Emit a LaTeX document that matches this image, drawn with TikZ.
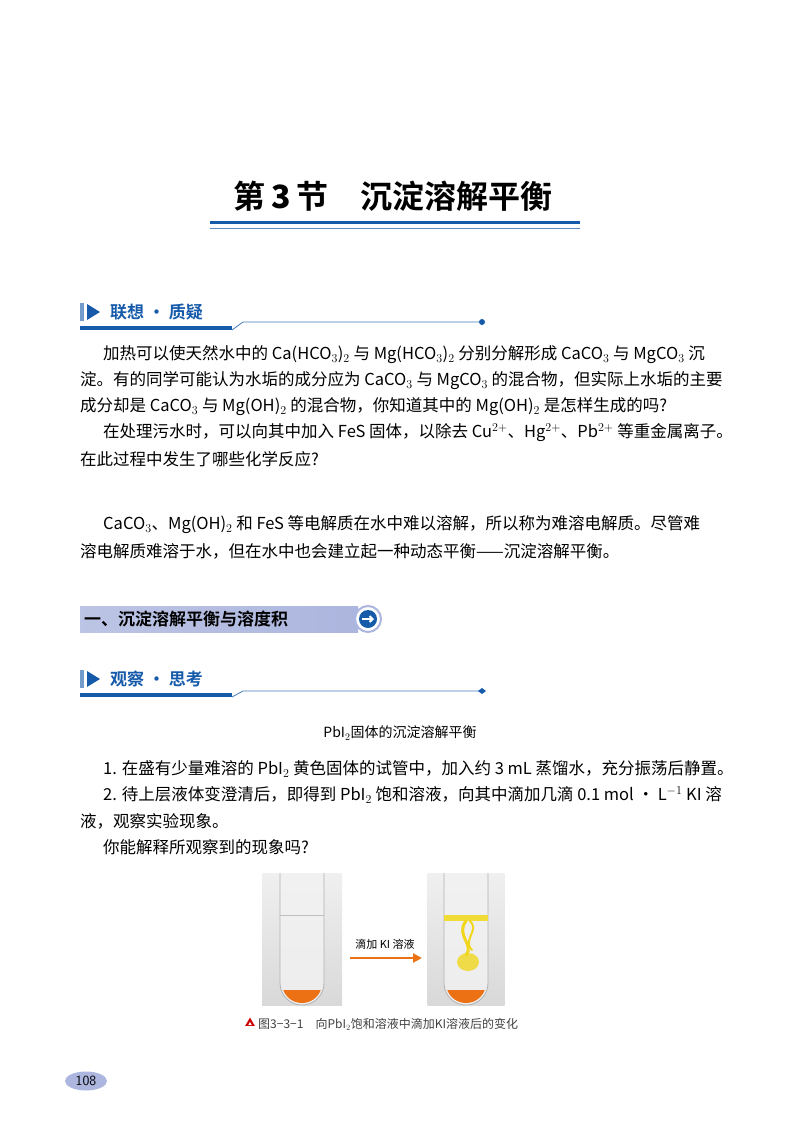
\documentclass[tikz,border=0pt]{standalone}
\usepackage{fontspec}
\setmainfont{Liberation Serif}
\newfontfamily\cjk{Noto Sans CJK SC}
\newfontfamily\cjkb{Noto Sans CJK SC Bold}
\usetikzlibrary{positioning,arrows.meta,shapes.geometric}
\definecolor{hdblue}{RGB}{22,90,170}
\definecolor{barblue}{RGB}{172,182,222}
\definecolor{tipor}{RGB}{236,112,20}
\definecolor{pbyel}{RGB}{240,215,30}
\newcommand{\bodytext}{\fontsize{16.5}{16.5}\selectfont\cjk}
\begin{document}
\begin{tikzpicture}[x=1pt,y=-1pt,
    line/.style={anchor=west, inner sep=0pt, font=\bodytext},
    hdtext/.style={anchor=west, inner sep=0pt, text=hdblue, font=\fontsize{17}{17}\selectfont\cjkb},
    photo/.style={draw=none, top color=gray!12, bottom color=gray!30, minimum width=80pt, minimum height=132pt, inner sep=0pt},
  ]
  \useasboundingbox (0,0) rectangle (800,1132);

  % title
  \node (title) at (393,196) {\fontsize{32}{32}\selectfont\cjkb 第\,\textbf{\textit{3}}\,节\quad 沉淀溶解平衡};
  \draw[hdblue, line width=3pt] (210,222) -- (580,222);
  \draw[hdblue!70, line width=1pt] (210,228) -- (580,228);

  % header 1
  \fill[hdblue!60] (80,303) rectangle (84,321);
  \fill[hdblue] (87,304) -- (100,312) -- (87,320) -- cycle;
  \node[hdtext] (hd1) at (110,312) {联想 · 质疑};
  \fill[hdblue] (80,326) rectangle (232,330);
  \draw[hdblue!80, line width=0.8pt] (232,330) -- (243,322) -- (480,322);
  \fill[hdblue] (482,322) circle (3);

  % paragraph lines
  \node[line] (p1) at (103,355) {加热可以使天然水中的 Ca(HCO$_3$)$_2$ 与 Mg(HCO$_3$)$_2$ 分别分解形成 CaCO$_3$ 与 MgCO$_3$ 沉};
  \node[line] (p2) at (80,381) {淀。有的同学可能认为水垢的成分应为 CaCO$_3$ 与 MgCO$_3$ 的混合物，但实际上水垢的主要};
  \node[line] (p3) at (80,407) {成分却是 CaCO$_3$ 与 Mg(OH)$_2$ 的混合物，你知道其中的 Mg(OH)$_2$ 是怎样生成的吗?};
  \node[line] (p4) at (103,433) {在处理污水时，可以向其中加入 FeS 固体，以除去 Cu$^{2+}$、Hg$^{2+}$、Pb$^{2+}$ 等重金属离子。};
  \node[line] (p5) at (80,459) {在此过程中发生了哪些化学反应?};
  \node[line] (p6) at (103,525) {CaCO$_3$、Mg(OH)$_2$ 和 FeS 等电解质在水中难以溶解，所以称为难溶电解质。尽管难};
  \node[line] (p7) at (80,551) {溶电解质难溶于水，但在水中也会建立起一种动态平衡——沉淀溶解平衡。};

  % section banner
  \shade[left color=barblue!80, right color=barblue] (80,606) rectangle (358,632);
  \node[anchor=west, inner sep=0pt, font=\fontsize{17}{17}\selectfont\cjkb] (sec1) at (84,619) {一、沉淀溶解平衡与溶度积};
  \node[circle, fill=white, draw=barblue, line width=2pt, minimum size=26pt, inner sep=0pt] (secring) at (368,619) {};
  \node[circle, fill=hdblue, minimum size=18pt, inner sep=0pt] (secdot) at (secring) {};
  \draw[white, line width=2pt, -{Straight Barb[length=3pt]}] (362,619) -- (374,619);

  % header 2
  \fill[hdblue!60] (80,670) rectangle (84,688);
  \fill[hdblue] (87,671) -- (100,679) -- (87,687) -- cycle;
  \node[hdtext] (hd2) at (110,679) {观察 · 思考};
  \fill[hdblue] (80,693) rectangle (232,697);
  \draw[hdblue!80, line width=0.8pt] (232,697) -- (243,691) -- (480,691);
  \fill[hdblue] (478,691) -- (482,688) -- (486,691) -- (482,694) -- cycle;

  % experiment
  \node[inner sep=0pt, font=\fontsize{14}{14}\selectfont\cjk] (exptitle) at (400,733) {PbI$_2$固体的沉淀溶解平衡};
  \node[line] (e1) at (103,769) {1. 在盛有少量难溶的 PbI$_2$ 黄色固体的试管中，加入约 3 mL 蒸馏水，充分振荡后静置。};
  \node[line] (e2) at (103,795) {2. 待上层液体变澄清后，即得到 PbI$_2$ 饱和溶液，向其中滴加几滴 0.1 mol · L$^{-1}$ KI 溶};
  \node[line] (e3) at (80,821) {液，观察实验现象。};
  \node[line] (e4) at (103,847) {你能解释所观察到的现象吗?};

  % photos
  \node[photo] (ph1) at (302,939) {};
  \node[photo, minimum width=77pt] (ph2) at (466,939) {};
  \foreach \cx in {302,466}{
    \fill[white!90!gray, opacity=0.8] (\cx-22,873) -- (\cx-22,983) arc (180:0:22) -- (\cx+22,873) -- cycle;
    \begin{scope}
      \clip (\cx-25,990) rectangle (\cx+25,1010);
      \fill[tipor] (\cx-20,983) arc (180:0:20) -- cycle;
    \end{scope}
    \draw[gray!60, line width=0.8pt] (\cx-22,873) -- (\cx-22,983) arc (180:0:22) -- (\cx+22,873);
    \draw[gray!50] (\cx-22,915) -- (\cx+22,915);
  }
  \fill[pbyel!90] (444,915) -- (488,915) -- (488,921) -- (444,921) -- cycle;
  \fill[pbyel, opacity=0.8] (468,962) ellipse (11 and 9);
  \draw[pbyel, line width=3pt, line cap=round] (466,921) .. controls (455,935) and (475,945) .. (466,955);
  \draw[pbyel, line width=2pt, line cap=round] (470,921) .. controls (480,930) and (462,940) .. (472,950);

  \node[inner sep=0pt, font=\fontsize{11}{11}\selectfont\cjk] (kilabel) at (385,944) {滴加 KI 溶液};
  \coordinate (arrs) at (350,958);
  \coordinate (arre) at (422,958);
  \draw[tipor, line width=2.5pt, -{Triangle[length=9pt,width=9pt]}] (arrs) -- (arre);

  % caption
  \node[regular polygon, regular polygon sides=3, fill=red!80!black, minimum size=11pt, inner sep=0pt] (capicon) at (250,1023) {};
  \node[regular polygon, regular polygon sides=3, fill=white, minimum size=4pt, inner sep=0pt] at (250,1024) {};
  \node[anchor=west, inner sep=0pt, text=black!75, font=\fontsize{12}{12}\selectfont\cjk] (caption) at (258,1024) {图3−3−1\quad 向PbI$_2$饱和溶液中滴加KI溶液后的变化};

  % page number
  \node[ellipse, fill=barblue, minimum width=42pt, minimum height=19pt, inner sep=0pt, font=\fontsize{14}{14}\selectfont\sffamily] (pageno) at (86,1081) {108};
\end{tikzpicture}
\end{document}
